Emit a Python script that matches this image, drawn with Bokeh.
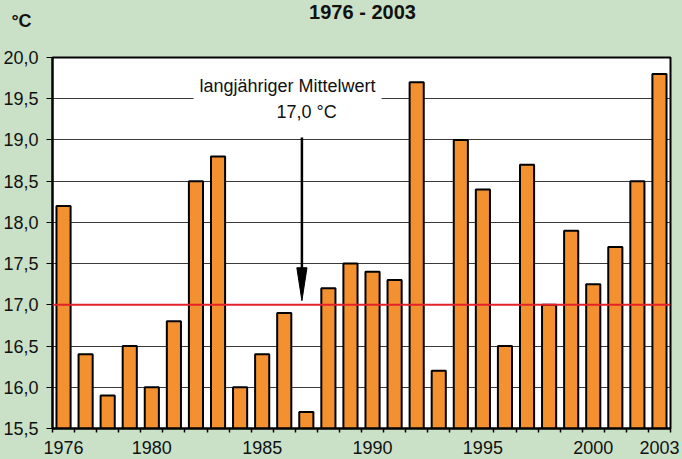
from bokeh.plotting import figure
from bokeh.layouts import column
from bokeh.models import FixedTicker, Span, Label, ColumnDataSource, Range1d
from bokeh.core.properties import value
from bokeh.embed import file_html
from bokeh.resources import INLINE

# ---- data ----
years = list(range(1976, 2004))
temps = [18.2, 16.4, 15.9, 16.5, 16.0, 16.8, 18.5, 18.8, 16.0, 16.4,
         16.9, 15.7, 17.2, 17.5, 17.4, 17.3, 19.7, 16.2, 19.0, 18.4,
         16.5, 18.7, 17.0, 17.9, 17.25, 17.7, 18.5, 19.8]
mean_value = 17.0
x_tick_years = [1976, 1980, 1985, 1990, 1995, 2000, 2003]
y_ticks = [15.5, 16.0, 16.5, 17.0, 17.5, 18.0, 18.5, 19.0, 19.5, 20.0]
y_tick_labels = ["15,5", "16,0", "16,5", "17,0", "17,5", "18,0", "18,5", "19,0", "19,5", "20,0"]
title_text = "1976 - 2003"
unit_text = "°C"
note_line1 = "langjähriger Mittelwert"
note_line2 = "17,0 °C"

BG = "#CAE1C8"
FONT = "Liberation Sans"
W = 682
TOP_H = 32

# ---- header strip (title and unit) ----
head = figure(width=W, height=TOP_H, x_range=Range1d(0, W), y_range=Range1d(TOP_H, 0),
              x_axis_type=None, y_axis_type=None,
              output_backend="svg", toolbar_location=None,
              min_border=0, min_border_left=0, min_border_right=0,
              min_border_top=0, min_border_bottom=0)
head.frame_align = False
head.grid.visible = False
head.outline_line_color = None
head.background_fill_color = BG
head.border_fill_color = BG
head.text(x=[362], y=[11], text=[title_text], text_align="center", text_baseline="middle",
          text_font=value(FONT), text_font_size="20px", text_font_style="bold",
          text_color="#111111")
head.text(x=[21], y=[20], text=[unit_text], text_align="center", text_baseline="middle",
          text_font=value(FONT), text_font_size="18px", text_font_style="bold",
          text_color="#111111")

# ---- main chart ----
p = figure(width=W, height=459 - TOP_H,
           x_range=(years[0] - 0.5, years[-1] + 0.5),
           y_range=(y_ticks[0], y_ticks[-1]),
           output_backend="svg", toolbar_location=None,
           min_border_left=52, min_border_right=12,
           min_border_top=57 - TOP_H, min_border_bottom=31)
p.frame_align = False
p.background_fill_color = "white"
p.border_fill_color = BG
p.outline_line_color = "black"
p.outline_line_width = 2

src = ColumnDataSource(dict(year=years, temp=temps))
p.vbar(x="year", top="temp", bottom=y_ticks[0], width=0.64, source=src,
       fill_color="#F39130", line_color="black", line_width=2)

# grid
p.xgrid.visible = False
p.ygrid.ticker = FixedTicker(ticks=y_ticks)
p.ygrid.grid_line_color = "#3a3a3a"
p.ygrid.grid_line_width = 1

# y axis
ya = p.yaxis[0]
ya.ticker = FixedTicker(ticks=y_ticks)
ya.major_label_overrides = {t: l for t, l in zip(y_ticks, y_tick_labels)}
ya.major_label_text_font = FONT
ya.major_label_text_font_size = "18px"
ya.major_label_text_color = "#111111"
ya.axis_line_color = "black"
ya.axis_line_width = 2
ya.major_tick_in = 0
ya.major_tick_out = 6
ya.major_tick_line_color = "black"
ya.minor_tick_line_color = None
ya.major_label_standoff = 8

# x axis
xa = p.xaxis[0]
xa.ticker = FixedTicker(ticks=x_tick_years,
                        minor_ticks=[y - 0.5 for y in years] + [years[-1] + 0.5])
xa.major_label_text_font = FONT
xa.major_label_text_font_size = "18px"
xa.major_label_text_color = "#111111"
xa.axis_line_color = "black"
xa.axis_line_width = 2
xa.major_tick_in = 0
xa.major_tick_out = 0
xa.minor_tick_in = 0
xa.minor_tick_out = 4
xa.minor_tick_line_color = "black"
xa.minor_tick_line_width = 1.5
xa.major_label_standoff = 8

# mean line
p.add_layout(Span(location=mean_value, dimension="width",
                  line_color="#E4222A", line_width=2))

# annotation arrow
ax = 1986.8
p.segment(x0=[ax], y0=[19.03], x1=[ax], y1=[mean_value + 0.35],
          line_color="black", line_width=2.5)
p.patch(x=[ax - 0.23, ax, ax + 0.23], y=[mean_value + 0.45, mean_value + 0.05, mean_value + 0.45],
        fill_color="black", line_color="black", line_width=1)

p.add_layout(Label(x=1986.15, y=19.65, text=note_line1, text_align="center",
                   text_baseline="middle", text_font=FONT, text_font_size="18px",
                   text_color="#111111", background_fill_color="white",
                   padding=(6, 10)))
p.add_layout(Label(x=1987.01, y=19.345, text=note_line2, text_align="center",
                   text_baseline="middle", text_font=FONT, text_font_size="18px",
                   text_color="#111111"))

layout = column(head, p, spacing=0)
layout.styles = {"background-color": BG}

open("out.html", "w").write(file_html(layout, INLINE))
